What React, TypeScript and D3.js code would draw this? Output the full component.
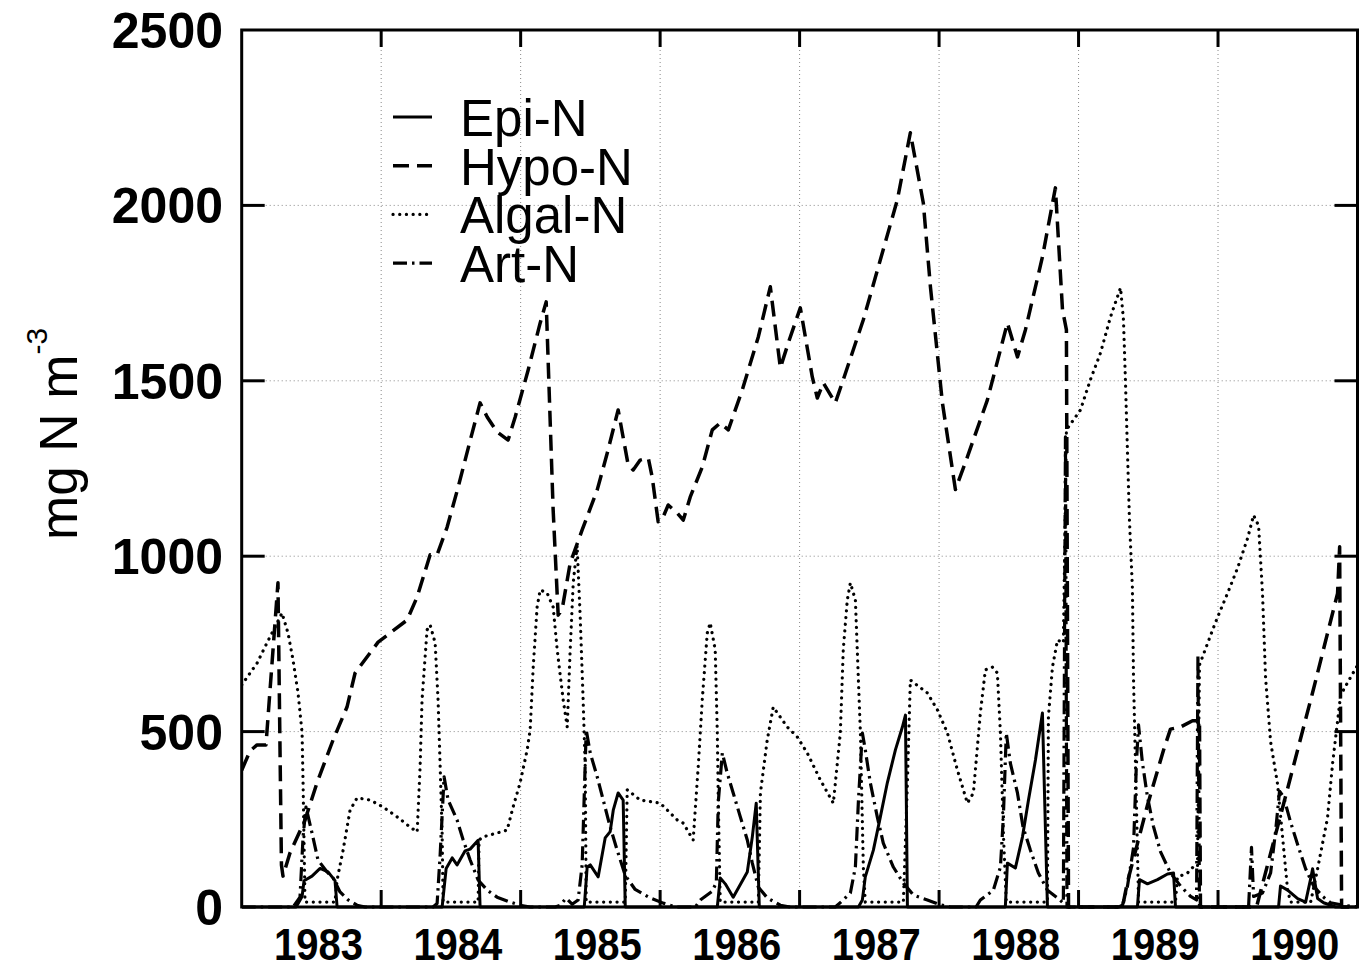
import React, { useEffect } from 'react';
import * as d3 from 'd3';

type Pt = [number, number];

const YEARS = [1983, 1984, 1985, 1986, 1987, 1988, 1989, 1990];
const Y_TICKS = [0, 500, 1000, 1500, 2000, 2500];
const GRID_Y = [500, 1000, 1500, 2000];
const SERIES_NAMES = ['Epi-N', 'Hypo-N', 'Algal-N', 'Art-N'];

const EPI_N: Pt[] = [
  [1983.0, 0], [1983.39, 0], [1983.433, 30], [1983.447, 75], [1983.504, 88], [1983.562, 110], [1983.619, 100], [1983.669, 75], [1983.684, 0],
  [1984.437, 0], [1984.466, 110], [1984.509, 140], [1984.544, 120], [1984.602, 160], [1984.638, 165], [1984.695, 190], [1984.709, 0],
  [1985.456, 0], [1985.477, 114], [1985.499, 120], [1985.556, 86], [1985.606, 197], [1985.642, 215], [1985.664, 276], [1985.699, 325], [1985.735, 305], [1985.75, 0],
  [1986.41, 0], [1986.431, 83], [1986.467, 66], [1986.524, 28], [1986.625, 100], [1986.661, 200], [1986.689, 296], [1986.711, 0],
  [1987.422, 0], [1987.45, 20], [1987.471, 86], [1987.529, 162], [1987.579, 257], [1987.629, 354], [1987.687, 448], [1987.737, 513], [1987.759, 547], [1987.773, 0],
  [1988.475, 0], [1988.49, 125], [1988.547, 111], [1988.598, 200], [1988.641, 305], [1988.691, 419], [1988.741, 553], [1988.777, 0],
  [1989.422, 0], [1989.437, 78], [1989.494, 66], [1989.566, 78], [1989.638, 94], [1989.681, 97], [1989.695, 0],
  [1990.434, 0], [1990.448, 60], [1990.499, 48], [1990.571, 24], [1990.628, 14], [1990.664, 80], [1990.678, 109], [1990.714, 24], [1990.757, 12], [1990.843, 0], [1991.0, 0],
];

const HYPO_N: Pt[] = [
  [1983.0, 390], [1983.06, 445], [1983.11, 462], [1983.174, 462], [1983.26, 924], [1983.285, 120], [1983.296, 88], [1983.346, 154],
  [1983.454, 248], [1983.54, 354], [1983.655, 476], [1983.755, 570], [1983.813, 667], [1983.978, 755], [1984.186, 818], [1984.258, 884],
  [1984.351, 1004], [1984.401, 1004], [1984.473, 1083], [1984.552, 1197], [1984.652, 1351], [1984.709, 1437], [1984.76, 1397],
  [1984.831, 1354], [1984.91, 1331], [1984.961, 1397], [1985.054, 1531], [1985.14, 1665], [1985.183, 1725], [1985.233, 1132],
  [1985.269, 832], [1985.298, 850], [1985.355, 980], [1985.441, 1075], [1985.549, 1189], [1985.621, 1294], [1985.699, 1417],
  [1985.771, 1260], [1985.807, 1246], [1985.857, 1274], [1985.915, 1280], [1985.943, 1226], [1985.986, 1098], [1986.022, 1112],
  [1986.058, 1146], [1986.123, 1123], [1986.166, 1103], [1986.216, 1169], [1986.302, 1254], [1986.374, 1360], [1986.431, 1380],
  [1986.489, 1360], [1986.589, 1474], [1986.704, 1625], [1986.79, 1768], [1986.862, 1537], [1986.919, 1608], [1987.005, 1708],
  [1987.091, 1511], [1987.127, 1451], [1987.17, 1494], [1987.256, 1437], [1987.313, 1503], [1987.457, 1674], [1987.579, 1845],
  [1987.701, 2016], [1987.794, 2207], [1987.887, 2007], [1987.938, 1768], [1988.024, 1437], [1988.117, 1190], [1988.203, 1283],
  [1988.346, 1445], [1988.49, 1665], [1988.562, 1568], [1988.619, 1645], [1988.741, 1853], [1988.834, 2050], [1988.885, 1702],
  [1988.913, 1645], [1988.928, 0], [1989.315, 0], [1989.351, 72], [1989.494, 290], [1989.609, 447], [1989.659, 507],
  [1989.731, 513], [1989.817, 531], [1989.867, 531], [1989.874, 0], [1990.276, 0], [1990.499, 338], [1990.685, 622],
  [1990.857, 894], [1990.872, 1027], [1990.886, 0], [1991.0, 0],
];

const ALGAL_N: Pt[] = [
  [1983.0, 633], [1983.11, 695], [1983.181, 753], [1983.239, 798], [1983.289, 838], [1983.332, 781], [1983.368, 704], [1983.404, 610],
  [1983.433, 496], [1983.44, 354], [1983.454, 14], [1983.669, 14], [1983.684, 77], [1983.727, 162], [1983.777, 276], [1983.827, 311],
  [1983.92, 305], [1984.014, 285], [1984.114, 257], [1984.207, 228], [1984.258, 214], [1984.279, 399], [1984.293, 590], [1984.329, 790],
  [1984.351, 804], [1984.387, 753], [1984.408, 590], [1984.423, 399], [1984.437, 211], [1984.444, 14], [1984.695, 14], [1984.702, 191],
  [1984.731, 200], [1984.831, 211], [1984.903, 219], [1984.946, 285], [1984.996, 354], [1985.047, 448], [1985.068, 505], [1985.09, 684],
  [1985.118, 855], [1985.14, 904], [1985.19, 895], [1985.233, 855], [1985.262, 733], [1985.305, 590], [1985.334, 513], [1985.355, 733],
  [1985.377, 924], [1985.405, 1030], [1985.427, 827], [1985.448, 590], [1985.463, 399], [1985.47, 14], [1985.75, 14], [1985.764, 334],
  [1985.857, 305], [1986.001, 296], [1986.123, 248], [1986.166, 239], [1986.237, 191], [1986.273, 399], [1986.302, 590], [1986.338, 781],
  [1986.359, 810], [1986.395, 733], [1986.41, 496], [1986.417, 305], [1986.431, 14], [1986.704, 14], [1986.719, 325], [1986.768, 476],
  [1986.811, 570], [1986.912, 513], [1986.983, 485], [1987.055, 439], [1987.149, 362], [1987.242, 296], [1987.292, 496], [1987.313, 733],
  [1987.342, 875], [1987.364, 924], [1987.4, 875], [1987.436, 496], [1987.457, 114], [1987.471, 14], [1987.744, 14], [1987.773, 354],
  [1987.794, 647], [1987.916, 610], [1987.988, 562], [1988.06, 496], [1988.131, 391], [1988.203, 296], [1988.246, 325], [1988.296, 553],
  [1988.332, 676], [1988.382, 684], [1988.418, 667], [1988.44, 496], [1988.461, 211], [1988.482, 14], [1988.777, 14], [1988.784, 542],
  [1988.813, 684], [1988.849, 761], [1988.891, 753], [1988.913, 1360], [1989.014, 1417], [1989.085, 1503], [1989.157, 1579],
  [1989.229, 1682], [1989.301, 1765], [1989.322, 1674], [1989.336, 1503], [1989.351, 1294], [1989.365, 1103], [1989.386, 912],
  [1989.394, 652], [1989.408, 411], [1989.422, 169], [1989.43, 14], [1989.695, 14], [1989.709, 85], [1989.781, 97], [1989.824, 115],
  [1989.853, 115], [1989.867, 690], [1989.968, 797], [1990.004, 833], [1990.068, 894], [1990.14, 966], [1990.212, 1051], [1990.255, 1117],
  [1990.291, 1087], [1990.319, 894], [1990.341, 652], [1990.377, 471], [1990.427, 350], [1990.47, 169], [1990.499, 48], [1990.52, 14],
  [1990.664, 14], [1990.714, 109], [1990.785, 254], [1990.822, 411], [1990.879, 604], [1990.929, 640], [1991.0, 689],
];

const ART_N: Pt[] = [
  [1983.0, 0], [1983.368, 0], [1983.418, 28], [1983.44, 200], [1983.461, 285], [1983.504, 211], [1983.547, 134], [1983.612, 100],
  [1983.655, 83], [1983.705, 43], [1983.763, 20], [1983.827, 5], [1983.885, 0],
  [1984.372, 0], [1984.401, 10], [1984.423, 150], [1984.451, 371], [1984.48, 305], [1984.544, 248], [1984.588, 191], [1984.638, 134],
  [1984.695, 77], [1984.76, 48], [1984.831, 28], [1984.925, 14], [1984.996, 5], [1985.068, 0],
  [1985.248, 0], [1985.283, 5], [1985.326, 25], [1985.369, 8], [1985.412, 20], [1985.441, 120], [1985.47, 505], [1985.499, 439],
  [1985.549, 371], [1985.592, 305], [1985.642, 228], [1985.692, 162], [1985.75, 90], [1985.821, 50], [1985.929, 26], [1986.022, 11], [1986.108, 0],
  [1986.252, 0], [1986.288, 20], [1986.374, 45], [1986.403, 70], [1986.417, 300], [1986.446, 439], [1986.481, 382], [1986.524, 325],
  [1986.575, 257], [1986.625, 191], [1986.661, 125], [1986.704, 57], [1986.768, 26], [1986.862, 5], [1986.933, 0],
  [1987.256, 0], [1987.313, 20], [1987.364, 40], [1987.4, 114], [1987.422, 305], [1987.45, 496], [1987.471, 448], [1987.507, 354],
  [1987.557, 257], [1987.6, 182], [1987.672, 114], [1987.744, 68], [1987.816, 34], [1987.916, 20], [1988.009, 6], [1988.081, 0],
  [1988.265, 0], [1988.296, 20], [1988.389, 48], [1988.44, 114], [1988.461, 257], [1988.482, 496], [1988.511, 410], [1988.562, 325],
  [1988.602, 228], [1988.655, 162], [1988.712, 97], [1988.777, 48], [1988.849, 26], [1988.891, 11], [1988.906, 1340], [1988.917, 0],
  [1989.288, 0], [1989.315, 5], [1989.351, 60], [1989.394, 169], [1989.415, 411], [1989.43, 519], [1989.458, 411], [1989.494, 314],
  [1989.537, 230], [1989.588, 157], [1989.659, 97], [1989.731, 60], [1989.803, 30], [1989.846, 20], [1989.856, 719], [1989.867, 0],
  [1990.219, 0], [1990.24, 170], [1990.255, 30], [1990.319, 40], [1990.377, 97], [1990.413, 217], [1990.441, 330], [1990.47, 314],
  [1990.52, 242], [1990.578, 169], [1990.628, 109], [1990.685, 60], [1990.75, 30], [1990.807, 12], [1990.915, 4], [1991.0, 0],
];

const FONT = '"Liberation Sans", Arial, Helvetica, sans-serif';

export default function App() {
  useEffect(() => {
    document.body.style.margin = '0';
  }, []);

  const W = 1368;
  const H = 969;
  const L = 241.7, R = 1357.5, T = 30, B = 907;
  const x = d3.scaleLinear().domain([1983, 1991]).range([L, R]);
  const y = d3.scaleLinear().domain([0, 2500]).range([B, T]);
  const line = d3.line<Pt>().x(d => x(d[0])).y(d => y(d[1]));

  const styles = [
    { data: EPI_N, dash: 'none', cap: 'butt', w: 3 },
    { data: HYPO_N, dash: '16 8', cap: 'butt', w: 3.5 },
    { data: ALGAL_N, dash: '0.1 6.6', cap: 'round', w: 3.2 },
    { data: ART_N, dash: '14 5 2.5 5', cap: 'butt', w: 3.2 },
  ];

  const gridYears = YEARS.slice(1);

  return (
    <svg width={W} height={H} style={{ position: 'absolute', left: 0, top: 0, background: '#fff' }}>
      <defs>
        <clipPath id="plot">
          <rect x={L} y={T - 2} width={R - L} height={B - T + 4} />
        </clipPath>
      </defs>
      <rect x={0} y={0} width={W} height={H} fill="#fff" />
      {GRID_Y.map(v => (
        <line key={'gy' + v} x1={L} x2={R} y1={y(v)} y2={y(v)} stroke="#888" strokeWidth={1} strokeDasharray="1 3" />
      ))}
      {gridYears.map(t => (
        <line key={'gx' + t} x1={x(t)} x2={x(t)} y1={T} y2={B} stroke="#888" strokeWidth={1} strokeDasharray="1 3" />
      ))}
      <g clipPath="url(#plot)">
        {styles.map((s, i) => (
          <path key={i} d={line(s.data) || ''} fill="none" stroke="#000" strokeWidth={s.w}
            strokeDasharray={s.dash} strokeLinecap={s.cap as any} strokeLinejoin="round" />
        ))}
      </g>
      <rect x={L} y={T} width={R - L} height={B - T} fill="none" stroke="#000" strokeWidth={3} />
      {GRID_Y.map(v => (
        <g key={'ty' + v}>
          <line x1={L} x2={L + 23} y1={y(v)} y2={y(v)} stroke="#000" strokeWidth={3} />
          <line x1={R - 23} x2={R} y1={y(v)} y2={y(v)} stroke="#000" strokeWidth={3} />
        </g>
      ))}
      {gridYears.map(t => (
        <g key={'tx' + t}>
          <line x1={x(t)} x2={x(t)} y1={B} y2={B - 17} stroke="#000" strokeWidth={3} />
          <line x1={x(t)} x2={x(t)} y1={T} y2={T + 17} stroke="#000" strokeWidth={3} />
        </g>
      ))}
      {Y_TICKS.map(v => (
        <text key={'yl' + v} x={223} y={y(v) + 18} textAnchor="end" fontFamily={FONT} fontWeight="bold" fontSize={50} fill="#000">
          {v}
        </text>
      ))}
      {YEARS.map(t => (
        <text key={'xl' + t} x={x(t + 0.55)} y={960} textAnchor="middle" fontFamily={FONT} fontWeight="bold" fontSize={44}
          textLength={89} lengthAdjust="spacingAndGlyphs" fill="#000">
          {t}
        </text>
      ))}
      <text transform="translate(77,540) rotate(-90)" fontFamily={FONT} fontSize={53} fill="#000">
        mg N m<tspan dy={-30} fontSize={30}>-3</tspan>
      </text>
      {SERIES_NAMES.map((name, i) => {
        const cy = 117 + i * 48.7;
        const s = styles[i];
        return (
          <g key={'lg' + i}>
            <line x1={393} x2={432} y1={cy} y2={cy} stroke="#000" strokeWidth={s.w}
              strokeDasharray={s.dash} strokeLinecap={s.cap as any} />
            <text x={460} y={cy + 19} fontFamily={FONT} fontSize={51} fill="#000">{name}</text>
          </g>
        );
      })}
    </svg>
  );
}
